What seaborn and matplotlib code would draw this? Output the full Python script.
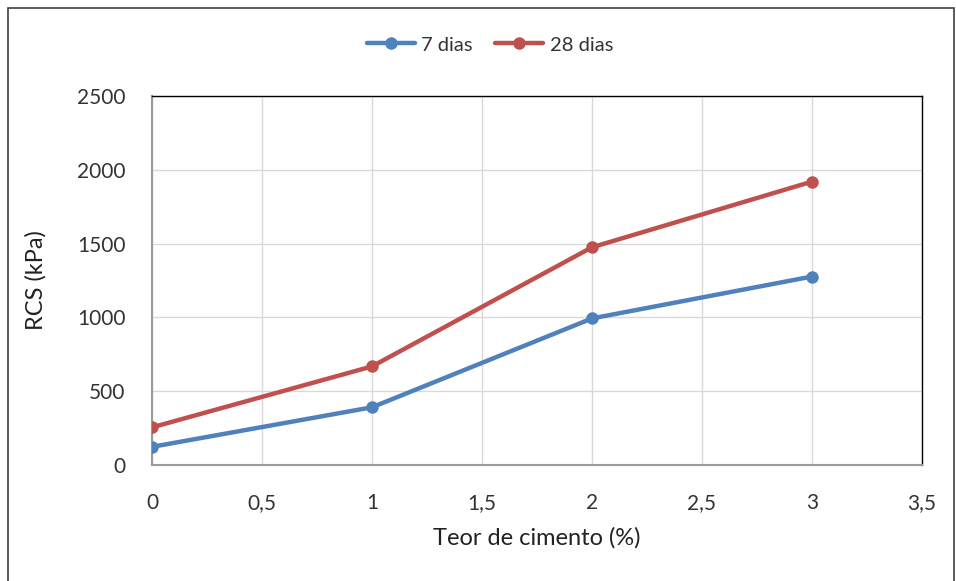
import matplotlib
matplotlib.use("Agg")
import matplotlib.pyplot as plt
import seaborn as sns
import pandas as pd
from matplotlib.patches import Rectangle

teor = [0, 1, 2, 3]
rcs_7 = [123, 391, 993, 1277]
rcs_28 = [255, 668, 1475, 1920]
series_names = ["7 dias", "28 dias"]
colors = ["#4F81BD", "#C0504D"]
x_ticks = [0, 0.5, 1, 1.5, 2, 2.5, 3, 3.5]
x_ticklabels = ["0", "0,5", "1", "1,5", "2", "2,5", "3", "3,5"]
y_ticks = [0, 500, 1000, 1500, 2000, 2500]

df = pd.DataFrame({
    "teor": teor * 2,
    "rcs": rcs_7 + rcs_28,
    "serie": [series_names[0]] * len(teor) + [series_names[1]] * len(teor),
})

sns.set_theme(style="white")
plt.rcParams["font.family"] = ["Lato", "DejaVu Sans"]

fig = plt.figure(figsize=(9.56, 5.81), dpi=100)
ax = fig.add_axes([152/956, 1-465/581, (922-152)/956, (465-96)/581])

sns.lineplot(data=df, x="teor", y="rcs", hue="serie", palette=colors,
             marker="o", markersize=9, markeredgewidth=0, linewidth=3.2,
             ax=ax, legend=False, zorder=3)

ax.set_xlim(0, 3.5)
ax.set_ylim(0, 2500)
ax.set_xticks(x_ticks)
ax.set_xticklabels(x_ticklabels)
ax.set_yticks(y_ticks)
ax.grid(True, color="#d9d9d9", linewidth=1)
ax.set_axisbelow(True)
ax.tick_params(axis="both", length=0, labelsize=15, colors="#333333")
ax.tick_params(axis="x", pad=20)
ax.tick_params(axis="y", pad=19)
for s in ["left", "bottom"]:
    ax.spines[s].set_color("#9a9a9a")
    ax.spines[s].set_linewidth(1.5)
for s in ["top", "right"]:
    ax.spines[s].set_color("#000000")
    ax.spines[s].set_linewidth(1)
ax.set_xlabel("Teor de cimento (%)", fontsize=17, color="#222222", labelpad=10)
ax.set_ylabel("RCS (kPa)", fontsize=17, color="#222222", labelpad=22)

handles = [plt.Line2D([0], [0], color=c, lw=3.2, marker="o", markersize=9,
                      markeredgewidth=0) for c in colors]
fig.legend(handles, series_names, loc="center", bbox_to_anchor=(490/956, 1-45/581),
           ncol=2, frameon=False, fontsize=14.5, handlelength=2.4,
           handletextpad=0.3, columnspacing=1.1, labelcolor="#333333")

fig.patches.append(Rectangle((8/956, -0.02), (954-8)/956, 1-8/581+0.02,
                             transform=fig.transFigure, fill=False,
                             edgecolor="#404040", linewidth=1.2))

fig.savefig("out.png", dpi=100)
